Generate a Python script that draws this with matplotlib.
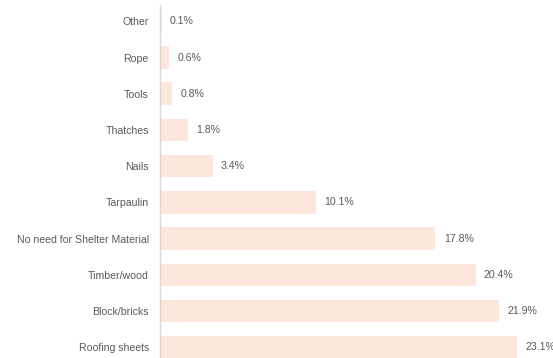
import matplotlib.pyplot as plt

plt.rcParams['font.family'] = ['Liberation Sans', 'DejaVu Sans']

categories = ['Roofing sheets', 'Block/bricks', 'Timber/wood', 'No need for Shelter Material',
              'Tarpaulin', 'Nails', 'Thatches', 'Tools', 'Rope', 'Other']
values = [23.1, 21.9, 20.4, 17.8, 10.1, 3.4, 1.8, 0.8, 0.6, 0.1]

bar_color = '#fde6dc'
text_color = '#595959'

fig = plt.figure(figsize=(5.53, 3.58), dpi=100)
ax = fig.add_axes([0.2893, 0.0, 0.7107, 0.986])

pos = list(range(len(categories)))
ax.barh(pos, values, height=0.62, color=bar_color, zorder=1)

# value labels just past the end of each bar
for p, v in zip(pos, values):
    ax.annotate(f'{v}%', (v, p), xytext=(6, 0), textcoords='offset points',
                va='center', ha='left', fontsize=7.6, color=text_color)

ax.set_yticks(pos)
ax.set_yticklabels(categories, fontsize=7.6, color=text_color)
ax.tick_params(axis='y', length=0, pad=8)
ax.set_xticks([])
ax.set_xlim(0, 25.4)
ax.set_ylim(-0.30, 9.45)

for side in ['top', 'right', 'bottom']:
    ax.spines[side].set_visible(False)
ax.spines['left'].set_color('#d9d9d9')
ax.spines['left'].set_linewidth(1.0)
ax.spines['left'].set_zorder(3)

fig.savefig('out.png', dpi=100)
